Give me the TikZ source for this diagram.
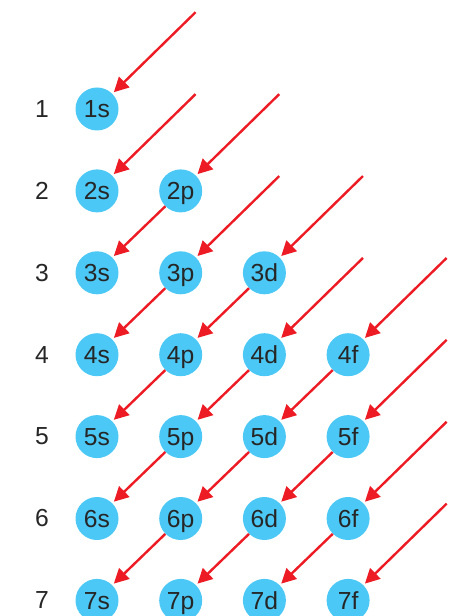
\documentclass[tikz,border=0pt]{standalone}
\usepackage{fontspec}
\setmainfont{Liberation Sans}
\usetikzlibrary{arrows.meta}
\definecolor{orbitalblue}{RGB}{75,200,245}
\definecolor{fillred}{RGB}{237,28,36}

\begin{document}
\begin{tikzpicture}[x=0.75pt, y=-0.75pt,
    orb/.style={circle, fill=orbitalblue, minimum size=32.25pt, inner sep=0pt, text height=13.3pt, text depth=0pt, font=\fontsize{18.5}{20}\selectfont, text=black!85},
    lvl/.style={font=\fontsize{18.5}{20}\selectfont, text=black!85},
    arr/.style={-{Triangle[length=11pt,width=11pt]}, draw=fillred, line width=1.8pt, shorten >=1.5pt}
]
\useasboundingbox (0,0) rectangle (464,616);

% shell numbers
\foreach \n in {1,...,7}
  \node[lvl] (lvl\n) at (42,{109+81.9*(\n-1)}) {\n};

% orbitals: shell/column/letter
\foreach \n/\l/\sub in {1/0/s, 2/0/s, 2/1/p, 3/0/s, 3/1/p, 3/2/d,
    4/0/s, 4/1/p, 4/2/d, 4/3/f, 5/0/s, 5/1/p, 5/2/d, 5/3/f,
    6/0/s, 6/1/p, 6/2/d, 6/3/f, 7/0/s, 7/1/p, 7/2/d, 7/3/f}
  \node[orb] (o\n\l) at ({97+83.7*\l},{109+81.9*(\n-1)}) {\n\sub};

% free starts of the diagonals
\foreach \n/\l in {0/1, 1/1, 1/2, 2/2, 2/3, 3/3, 3/4, 4/4, 5/4, 6/4}
  \coordinate (s\n\l) at ({97+83.7*\l+14.85},{109+81.9*(\n-1)-14.85});

% filling order
\foreach \n/\l in {0/1, 1/1, 1/2, 2/2, 2/3, 3/3, 3/4, 4/4, 5/4, 6/4}{
  \pgfmathtruncatemacro{\tn}{\n+1}
  \pgfmathtruncatemacro{\tl}{\l-1}
  \draw[arr] (s\n\l) -- (o\tn\tl.45);
}
\foreach \n/\l in {2/1, 3/1, 3/2, 4/1, 4/2, 4/3, 5/1, 5/2, 5/3, 6/1, 6/2, 6/3}{
  \pgfmathtruncatemacro{\tn}{\n+1}
  \pgfmathtruncatemacro{\tl}{\l-1}
  \draw[arr] (o\n\l.225) -- (o\tn\tl.45);
}
\end{tikzpicture}
\end{document}
